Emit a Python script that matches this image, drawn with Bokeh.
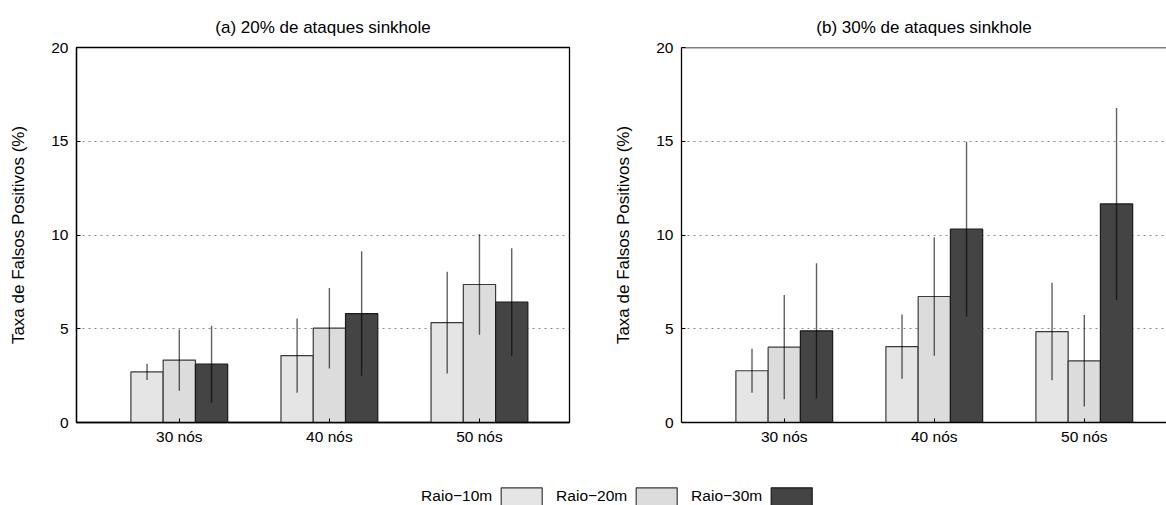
from bokeh.plotting import figure
from bokeh.layouts import row, column
from bokeh.models import Range1d, FixedTicker, Span
from bokeh.embed import file_html
from bokeh.resources import INLINE
from bokeh.core.properties import value

# ---------------- data ----------------
categories = ["30 nós", "40 nós", "50 nós"]
series = ["Raio−10m", "Raio−20m", "Raio−30m"]
y_ticks = [0, 5, 10, 15, 20]

titles = ["(a) 20% de ataques sinkhole", "(b) 30% de ataques sinkhole"]
y_label = "Taxa de Falsos Positivos (%)"

# panel (a): 20% sinkhole attacks
a_mean_10 = [2.70, 3.57, 5.33]
a_err_10 = [0.43, 1.98, 2.71]
a_mean_20 = [3.33, 5.03, 7.36]
a_err_20 = [1.63, 2.15, 2.68]
a_mean_30 = [3.11, 5.81, 6.42]
a_err_30 = [2.05, 3.32, 2.87]

# panel (b): 30% sinkhole attacks
b_mean_10 = [2.76, 4.05, 4.85]
b_err_10 = [1.17, 1.71, 2.60]
b_mean_20 = [4.02, 6.72, 3.29]
b_err_20 = [2.78, 3.16, 2.44]
b_mean_30 = [4.89, 10.31, 11.66]
b_err_30 = [3.61, 4.67, 5.12]

# ---------------- style ----------------
FONT = "Liberation Sans"
fills = ["#e5e5e5", "#dcdcdc", "#444444"]
edges = ["#3a3a3a", "#3a3a3a", "#1a1a1a"]
BAR_W = 0.215
X_START = -0.685


def make_panel(title, means, errs, width, b_left, b_right, x_end, full_outline):
    p = figure(width=width, height=463,
               x_range=Range1d(X_START, x_end), y_range=Range1d(0, 20),
               output_backend="svg", toolbar_location=None,
               min_border_left=b_left, min_border_right=b_right,
               min_border_top=47, min_border_bottom=41, title=title)
    p.title.align = "center"
    p.title.text_font = FONT
    p.title.text_font_size = "17px"
    p.title.text_font_style = "normal"
    p.title.text_color = "#000000"
    p.title.standoff = 21

    xs = list(range(len(categories)))
    for i in range(len(series)):
        off = (i - 1) * BAR_W
        bx = [x + off for x in xs]
        p.vbar(x=bx, top=means[i], width=BAR_W, bottom=0,
               fill_color=fills[i], line_color=edges[i], line_width=1.2)
        lo = [m - e for m, e in zip(means[i], errs[i])]
        hi = [m + e for m, e in zip(means[i], errs[i])]
        p.segment(x0=bx, y0=lo, x1=bx, y1=hi, line_color="#000000",
                  line_alpha=0.62, line_width=1.4)

    p.xaxis.ticker = FixedTicker(ticks=xs)
    p.xaxis.major_label_overrides = {x: c for x, c in zip(xs, categories)}
    p.yaxis.ticker = FixedTicker(ticks=y_ticks)
    for ax in (p.xaxis, p.yaxis):
        ax.major_tick_in = 4
        ax.major_tick_out = 0
        ax.minor_tick_line_color = None
        ax.major_tick_line_color = "#000000"
        ax.axis_line_color = "#000000"
        ax.axis_line_width = 1.3
        ax.major_label_text_font = FONT
        ax.major_label_text_font_size = "15.5px"
        ax.major_label_text_color = "#000000"
    p.xaxis.major_label_standoff = 5
    p.yaxis.major_label_standoff = 8
    p.yaxis.axis_label = y_label
    p.yaxis.axis_label_text_font = FONT
    p.yaxis.axis_label_text_font_size = "17px"
    p.yaxis.axis_label_text_font_style = "normal"
    p.yaxis.axis_label_text_color = "#000000"
    p.yaxis.axis_label_standoff = 20

    p.xgrid.grid_line_color = None
    p.ygrid.grid_line_color = "#8a8a8a"
    p.ygrid.grid_line_dash = "2 4"
    p.ygrid.grid_line_width = 1

    if full_outline:
        p.outline_line_color = "#000000"
        p.outline_line_width = 1.3
        p.outline_line_alpha = 1.0
    else:
        p.outline_line_color = None
        p.add_layout(Span(location=20, dimension="width",
                          line_color="#000000", line_width=1.3))
    return p


p1 = make_panel(titles[0], [a_mean_10, a_mean_20, a_mean_30],
                [a_err_10, a_err_20, a_err_30], 608, 76, 39, 2.6, True)
p2 = make_panel(titles[1], [b_mean_10, b_mean_20, b_mean_30],
                [b_err_10, b_err_20, b_err_30], 558, 73, 0, 2.548, False)

# ---------------- legend strip ----------------
leg = figure(width=1166, height=42, x_range=Range1d(0, 1166), y_range=Range1d(0, 42),
             output_backend="svg", toolbar_location=None,
             min_border_left=0, min_border_right=0, min_border_top=0, min_border_bottom=0)
leg.axis.visible = False
leg.grid.visible = False
leg.outline_line_color = None
text_end = [491.7 + 135 * i for i in range(len(series))]
leg.text(x=text_end, y=[1.5] * len(series), text=series,
         text_align="right", text_baseline="bottom",
         text_font=value(FONT), text_font_size="15.5px", text_color="#000000")
leg.quad(left=[t + 9 for t in text_end], right=[t + 50 for t in text_end],
         bottom=[-4] * len(series), top=[17.7] * len(series),
         fill_color=fills, line_color=edges, line_width=1.2)

layout = column(row(p1, p2), leg)

open("out.html", "w").write(file_html(layout, INLINE))
